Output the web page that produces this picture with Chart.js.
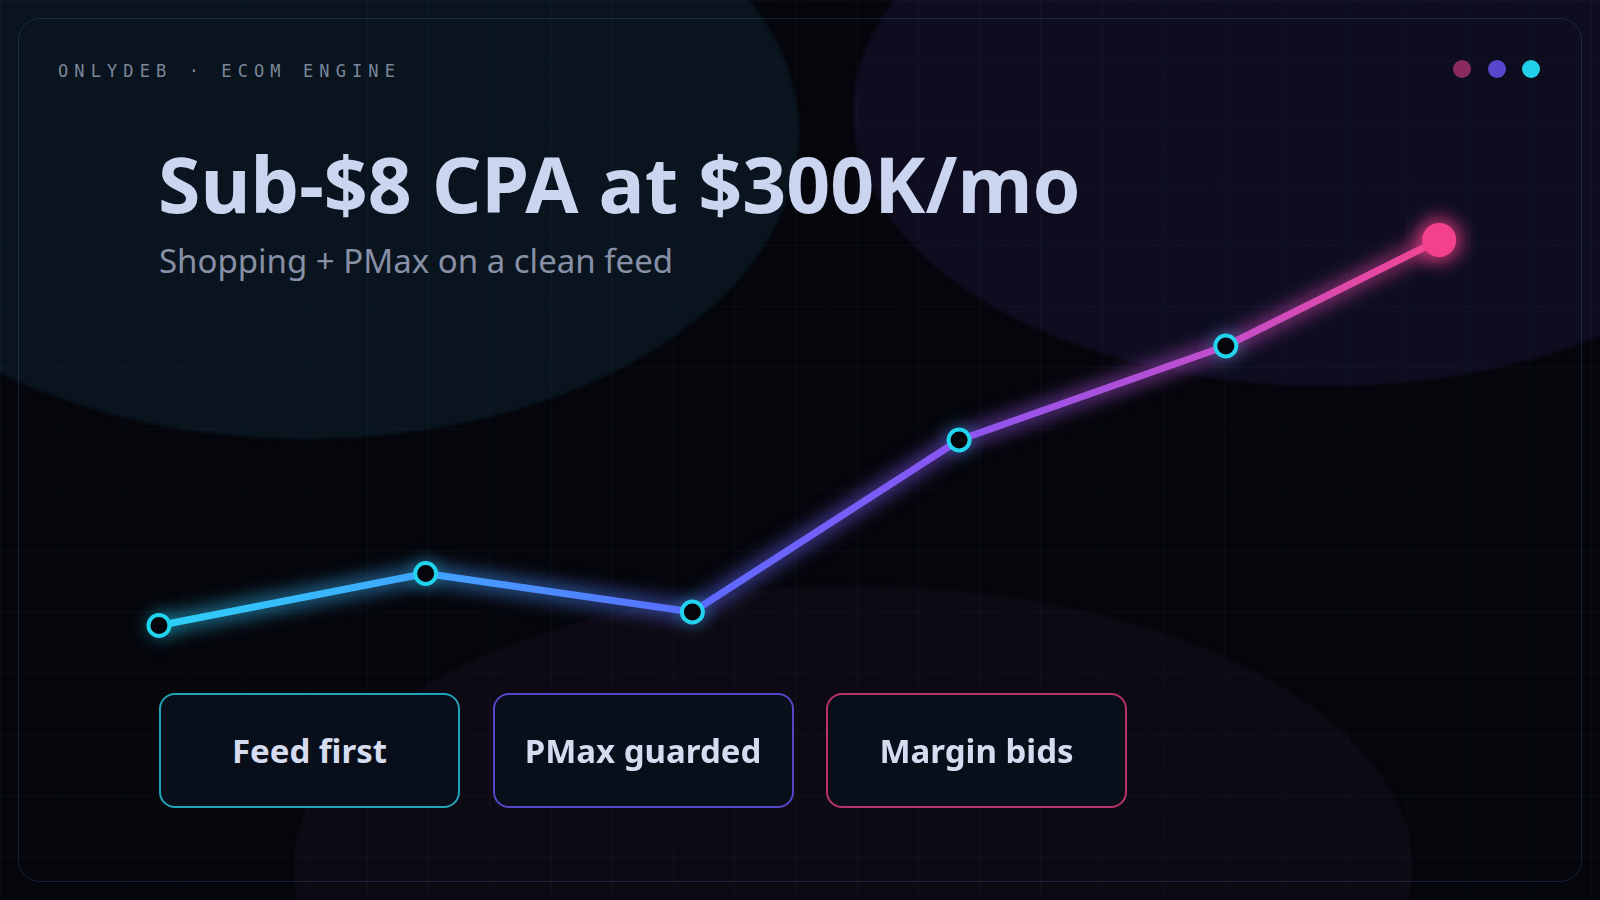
<!DOCTYPE html>
<html>
<head>
<meta charset="utf-8">
<script src="https://cdn.jsdelivr.net/npm/chart.js@4.4.0/dist/chart.umd.min.js"></script>
<style>
	html, body { margin: 0; padding: 0; }
	body {
		width: 1600px; height: 900px; overflow: hidden; position: relative;
		background: #05060c;
		font-family: "Noto Sans", "Open Sans", sans-serif;
	}
	.blob { position: absolute; border-radius: 50%; filter: blur( 1.5px ); }
	#blobA { left: -187px; top: -173px; width: 986px; height: 612px; background: #09141e; }
	#blobB { left: 853px; top: -162px; width: 948px; height: 548px; background: #0e0d20; }
	#blobC { left: 294px; top: 586px; width: 1118px; height: 562px; background: #0e0a14; }
	#grid {
		position: absolute; inset: 0;
		background-image:
			linear-gradient( to right, rgba( 120, 150, 210, 0.045 ) 1px, transparent 1px ),
			linear-gradient( to bottom, rgba( 120, 150, 210, 0.045 ) 1px, transparent 1px );
		background-size: 61.2px 61.2px;
	}
	#frame {
		position: absolute; left: 18px; top: 18px; width: 1562px; height: 862px;
		border: 1px solid rgba( 80, 100, 160, 0.28 ); border-radius: 22px;
	}
	#kicker {
		position: absolute; left: 58px; top: 61px;
		font-family: "DejaVu Sans Mono", monospace; font-size: 17px; letter-spacing: 6.1px;
		color: #7c8698;
	}
	#dots { position: absolute; left: 1453px; top: 60px; }
	#dots span { position: absolute; top: 0; width: 18px; height: 18px; border-radius: 50%; }
	#title {
		position: absolute; left: 158px; top: 138px; margin: 0;
		font-size: 77px; font-weight: 700; color: #ccd5ef; white-space: nowrap; line-height: 1.2;
	}
	#subtitle {
		position: absolute; left: 159px; top: 238px; margin: 0;
		font-size: 33px; font-weight: 400; color: #8790a6; white-space: nowrap;
	}
	#chartWrap { position: absolute; left: 0; top: 0; width: 1600px; height: 900px; }
	.tag {
		position: absolute; top: 693px; width: 297px; height: 111px;
		border: 2px solid; border-radius: 16px; background: #090e1b;
		display: flex; align-items: center; justify-content: center;
		font-size: 33px; font-weight: 700; color: #d5dcf0;
	}
</style>
</head>
<body>
<div class="blob" id="blobA"></div>
<div class="blob" id="blobB"></div>
<div class="blob" id="blobC"></div>
<div id="grid"></div>
<div id="frame"></div>
<div id="kicker">ONLYDEB · ECOM ENGINE</div>
<div id="dots"></div>
<h1 id="title">Sub-$8 CPA at $300K/mo</h1>
<p id="subtitle">Shopping + PMax on a clean feed</p>
<div id="chartWrap"><canvas id="chart" width="1600" height="900"></canvas></div>
<div id="tags"></div>

<script>
// step position along the ramp, last point lands a bit short of a full step
const steps		= [ 0, 1, 2, 3, 4, 4.8 ];
// scale index
const spendIndex	= [ 14.9, 25.3, 17.6, 52.0, 70.8, 92.0 ];

const tagLabels	= [ "Feed first", "PMax guarded", "Margin bids" ];
const tagColors	= [ "#20a3b6", "#5546c6", "#b8336a" ];
const dotColors	= [ "#8a2a5e", "#5747cd", "#22d0ea" ];

const lineStops	= [
	[ 0.00, "#2dd0f7" ],
	[ 0.20, "#3fa7ff" ],
	[ 0.42, "#5b6bff" ],
	[ 0.62, "#8b55f2" ],
	[ 0.83, "#c34dcc" ],
	[ 1.00, "#f4458f" ]
];

function build_tags() {
	let box	= document.getElementById( "tags" );
	tagLabels.forEach( ( t, i ) => {
		let d			= document.createElement( "div" );
		d.className		= "tag";
		d.style.left		= ( 159 + i * 333.5 ) + "px";
		d.style.borderColor	= tagColors[ i ];
		d.textContent		= t;
		box.appendChild( d );
	} );

	let dots	= document.getElementById( "dots" );
	dotColors.forEach( ( c, i ) => {
		let s			= document.createElement( "span" );
		s.style.left		= ( i * 34.5 ) + "px";
		s.style.background	= c;
		dots.appendChild( s );
	} );
}

function line_gradient( ctx, alpha ) {
	const chart	= ctx.chart;
	if ( !chart.chartArea )
		return lineStops[ 0 ][ 1 ];

	const xs	= chart.scales.x;
	const x0	= xs.getPixelForValue( steps[ 0 ] );
	const x1	= xs.getPixelForValue( steps[ steps.length - 1 ] );
	const g		= chart.ctx.createLinearGradient( x0, 0, x1, 0 );

	for ( const [ at, col ] of lineStops ) {
		g.addColorStop( at, col + alpha );
	}
	return g;
}

const last	= spendIndex.length - 1;

// blur the glow copy of the line
const glowPlugin = {
	id: "glow",
	beforeDatasetDraw( chart, args ) {
		if ( args.meta.label !== "glow" )
			return;
		chart.ctx.save();
		chart.ctx.filter	= "blur(9px)";
	},
	afterDatasetDraw( chart, args ) {
		if ( args.meta.label !== "glow" )
			return;
		chart.ctx.restore();
	}
};

function make_points() {
	return steps.map( ( s, i ) => ( { x: s, y: spendIndex[ i ] } ) );
}

window.addEventListener( "load", function () {
	build_tags();

	new Chart( document.getElementById( "chart" ), {
		type: "line",
		data: {
			datasets: [
				{
					label: "spend",
					data: make_points(),
					order: 1,
					borderColor: c => line_gradient( c, "" ),
					borderWidth: 7,
					borderCapStyle: "round",
					borderJoinStyle: "round",
					tension: 0,
					pointRadius: c => c.dataIndex === last ? 17 : 10.5,
					pointBorderWidth: c => c.dataIndex === last ? 0 : 4,
					pointBorderColor: c => c.dataIndex === last ? "#f4418c" : "#22d3ee",
					pointBackgroundColor: c => c.dataIndex === last ? "#f4418c" : "#05060c"
				},
				{
					label: "glow",
					data: make_points(),
					order: 2,
					borderColor: c => line_gradient( c, "99" ),
					borderWidth: 16,
					tension: 0,
					pointRadius: c => c.dataIndex === last ? 22 : 13,
					pointBorderWidth: 0,
					pointBackgroundColor: c => c.dataIndex === last ? "#f4418ccc" : "#22d3ee55"
				}
			]
		},
		options: {
			responsive: false,
			animation: false,
			layout: { padding: 0, autoPadding: false },
			plugins: {
				legend: { display: false },
				tooltip: { enabled: false }
			},
			scales: {
				x: { type: "linear", display: false, min: -0.596, max: 5.403 },
				y: { type: "linear", display: false, min: -40, max: 140 }
			}
		},
		plugins: [ glowPlugin ]
	} );
});
</script>
</body>
</html>
